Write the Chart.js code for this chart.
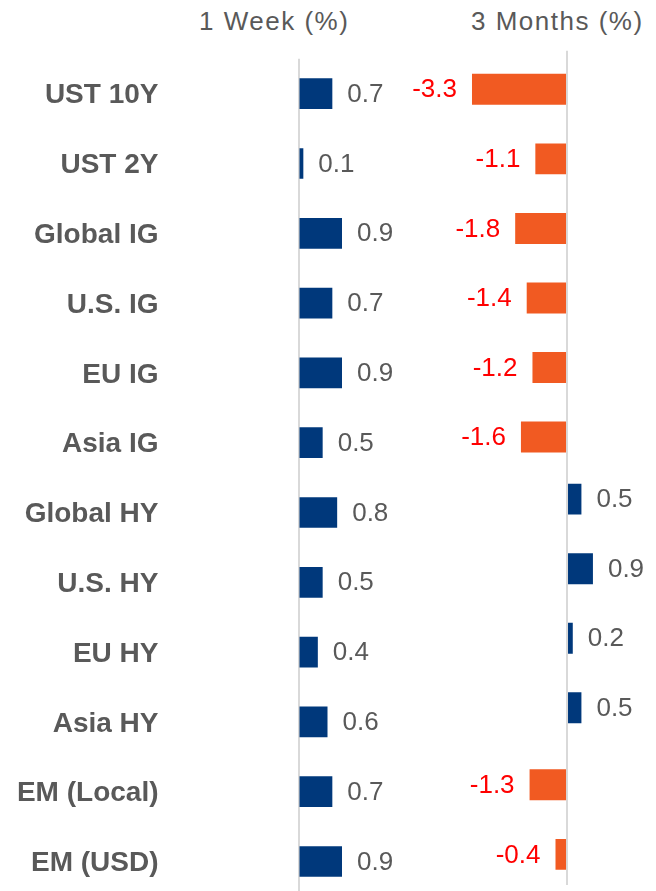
<!DOCTYPE html>
<html>
<head>
<meta charset="utf-8">
<script src="https://cdn.jsdelivr.net/npm/chart.js@4/dist/chart.umd.min.js"></script>
<style>
  html, body { margin: 0; padding: 0; background: #fff; }
  body { width: 656px; height: 891px; overflow: hidden; position: relative; }
  .ttl { position: absolute; top: 8px; font: 26px "Liberation Sans", Arial, sans-serif; line-height: 26px;
         color: #595959; letter-spacing: 1.5px; white-space: nowrap; }
  #wrapWeek { position: absolute; left: 0; top: 0; width: 400px; height: 900px; }
  #wrapMonths { position: absolute; left: 400px; top: 0; width: 256px; height: 891px; }
</style>
</head>
<body>
<div class="ttl" style="left:199px">1 Week (%)</div>
<div class="ttl" style="left:471px">3 Months (%)</div>
<div id="wrapWeek"><canvas id="weekChart"></canvas></div>
<div id="wrapMonths"><canvas id="monthsChart"></canvas></div>
<script>
const categories = ['UST 10Y', 'UST 2Y', 'Global IG', 'U.S. IG', 'EU IG', 'Asia IG',
                    'Global HY', 'U.S. HY', 'EU HY', 'Asia HY', 'EM (Local)', 'EM (USD)'];
const week1 = [0.7, 0.1, 0.9, 0.7, 0.9, 0.5, 0.8, 0.5, 0.4, 0.6, 0.7, 0.9];
const months3 = [-3.3, -1.1, -1.8, -1.4, -1.2, -1.6, 0.5, 0.9, 0.2, 0.5, -1.3, -0.4];

const NAVY = '#00387B';
const ORANGE = '#F15A22';
const GREY = '#595959';

// value labels next to each bar end
const valueLabels = {
  id: 'valueLabels',
  afterDatasetsDraw(chart) {
    const ctx = chart.ctx;
    ctx.save();
    ctx.font = '26px "Liberation Sans", Arial, sans-serif';
    ctx.textBaseline = 'middle';
    chart.data.datasets.forEach((ds, di) => {
      const meta = chart.getDatasetMeta(di);
      meta.data.forEach((bar, i) => {
        const v = ds.data[i];
        if (v === null || v === undefined) return;
        const neg = v < 0;
        ctx.fillStyle = neg ? '#FF0000' : GREY;
        ctx.textAlign = neg ? 'right' : 'left';
        ctx.fillText(v.toFixed(1), bar.x + (neg ? -15 : 15), bar.y + 1);
      });
    });
    ctx.restore();
  }
};

const zeroGrid = {
  color: (c) => (c.tick && c.tick.value === 0) ? '#D9D9D9' : 'rgba(0,0,0,0)',
  lineWidth: 2,
  drawTicks: false
};

new Chart('weekChart', {
  type: 'bar',
  data: {
    labels: categories,
    datasets: [{ data: week1, backgroundColor: NAVY, categoryPercentage: 1, barPercentage: 0.44 }]
  },
  options: {
    indexAxis: 'y',
    responsive: true,
    maintainAspectRatio: false,
    animation: false,
    layout: { padding: { top: 58.8, bottom: 3.6, right: 0, left: 0 } },
    plugins: { legend: { display: false }, tooltip: { enabled: false } },
    scales: {
      x: {
        min: 0, max: 2.1,
        ticks: { display: false, stepSize: 1 },
        grid: zeroGrid,
        border: { display: false }
      },
      y: {
        grid: { display: false, drawTicks: false },
        border: { display: false },
        afterFit: (axis) => {
          // big label gap, but keep it from eating vertical space
          axis.width = 298.5;
          axis.paddingTop = 0;
          axis.paddingBottom = 0;
        },
        ticks: {
          padding: 140,
          labelOffset: 2,
          color: GREY,
          font: { family: '"Liberation Sans", Arial, sans-serif', size: 28, weight: 'bold' }
        }
      }
    }
  },
  plugins: [valueLabels]
});

new Chart('monthsChart', {
  type: 'bar',
  data: {
    labels: categories,
    datasets: [
      { data: months3.map(v => v >= 0 ? v : null), backgroundColor: NAVY,
        categoryPercentage: 0.2157, barPercentage: 4.13 },
      { data: months3.map(v => v < 0 ? v : null), backgroundColor: ORANGE,
        categoryPercentage: 0.2157, barPercentage: 4.13 }
    ]
  },
  options: {
    indexAxis: 'y',
    responsive: true,
    maintainAspectRatio: false,
    animation: false,
    layout: { padding: { top: 50.8, bottom: 5.6, left: 0, right: 0 } },
    plugins: { legend: { display: false }, tooltip: { enabled: false } },
    scales: {
      x: {
        min: -5.8, max: 3.09,
        ticks: { display: false, stepSize: 1 },
        grid: zeroGrid,
        border: { display: false }
      },
      y: {
        display: false
      }
    }
  },
  plugins: [valueLabels]
});
</script>
</body>
</html>
